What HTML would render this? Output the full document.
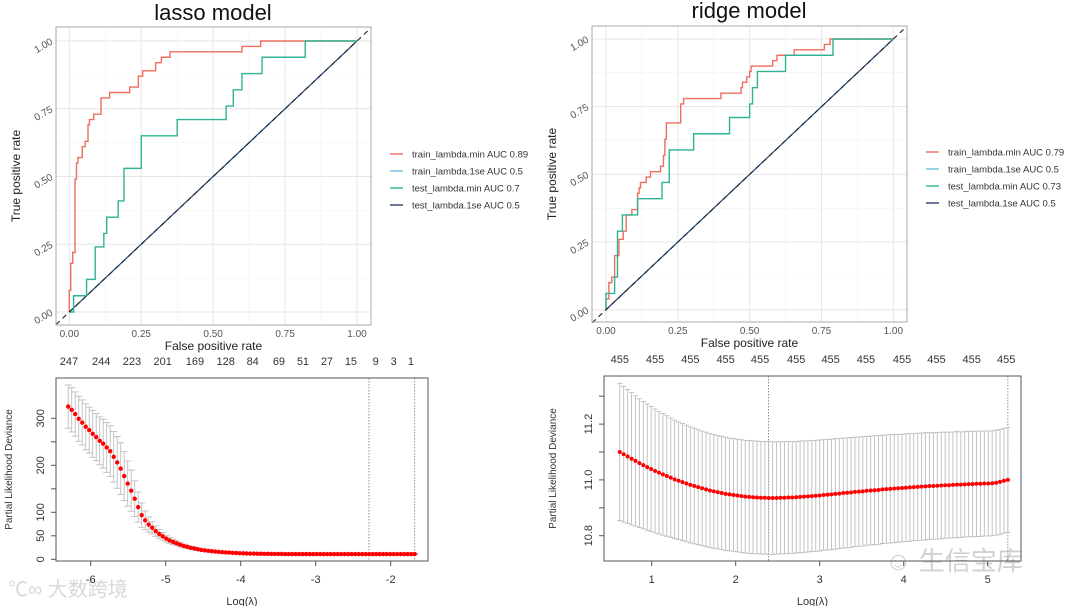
<!DOCTYPE html>
<html><head><meta charset="utf-8">
<style>
html,body{margin:0;padding:0;background:#fff;}
svg{display:block;font-family:"Liberation Sans","Noto Sans CJK SC",sans-serif;}
</style></head>
<body>
<svg id="fig" width="1080" height="606" viewBox="0 0 1080 606" xmlns="http://www.w3.org/2000/svg">
  <text x="213" y="20" font-size="22" text-anchor="middle" fill="#111">lasso model</text>
  <text x="749" y="18" font-size="22" text-anchor="middle" fill="#111">ridge model</text>
  <text x="8" y="596" font-size="20" fill="#d8d8d8">℃∞ 大数跨境</text>
  <text x="885" y="570" font-size="26" fill="#d0d0d0">☺ 生信宝库</text>
</svg>
<script>
// ---------- data ----------
const rocLassoTrainFpr = [0,.005,.012,.02,.025,.03,.045,.055,.065,.07,.085,.11,.14,.21,.24,.255,.3,.32,.35,.6,.665];
const rocLassoTrainTpr = [.08,.18,.22,.49,.55,.57,.61,.63,.69,.71,.73,.79,.81,.83,.87,.89,.92,.94,.96,.98,1];
const rocLassoTestFpr = [.015,.06,.09,.12,.13,.17,.19,.25,.375,.545,.57,.6,.67,.82];
const rocLassoTestTpr = [.06,.12,.24,.29,.35,.41,.53,.65,.71,.76,.82,.88,.94,1];
const rocRidgeTrainFpr = [0,.01,.02,.03,.045,.06,.07,.09,.11,.115,.12,.14,.155,.19,.2,.205,.21,.26,.27,.4,.47,.475,.49,.5,.505,.58,.595,.655,.76,.78];
const rocRidgeTrainTpr = [.04,.1,.12,.2,.26,.29,.35,.37,.43,.45,.47,.49,.51,.53,.57,.63,.69,.76,.78,.8,.82,.84,.86,.88,.9,.92,.94,.96,.98,1];
const rocRidgeTestFpr = [0,.03,.04,.057,.11,.195,.22,.305,.43,.5,.51,.527,.625,.79];
const rocRidgeTestTpr = [.06,.12,.29,.35,.41,.47,.59,.65,.71,.76,.82,.88,.94,1];
const lassoLegend = ["train_lambda.min AUC 0.89","train_lambda.1se AUC 0.5","test_lambda.min AUC 0.7","test_lambda.1se AUC 0.5"];
const ridgeLegend = ["train_lambda.min AUC 0.79","train_lambda.1se AUC 0.5","test_lambda.min AUC 0.73","test_lambda.1se AUC 0.5"];
const rocTicks = [0,0.25,0.5,0.75,1];
const rocTickLabels = ["0.00","0.25","0.50","0.75","1.00"];

const lassoDev = [325,318,309,299,291,282,275,267,260,252,246,238,230,218,206,193,177,161,146,129,111,94,83,74,67,60,54,49,44,40,37,34,31,28.5,26.5,24.5,23,21.5,20,19,18,17.2,16.5,15.8,15.2,14.7,14.2,13.8,13.4,13.1,12.8,12.5,12.3,12.1,11.9,11.8,11.7,11.6,11.5,11.4,11.35,11.3,11.25,11.2,11.15,11.1,11.1,11.05,11.05,11,11,11,11,11,11,11,11,11,11,11,11,11,11,11,11,11,11,11,11,11,11,11,11,11,11,11,11,11,11,11.1];
const lassoSe = [46,47,47,48,48,49,49,50,50,51,52,53,54,54,55,55,52,48,44,38,32,26,20,16,13,11,9,8,7,6,5.5,5,4.5,4,3.6,3.2,2.9,2.6,2.3,2,1.8,1.6,1.5,1.4,1.3,1.2,1.1,1,1,1,1,1,1,1,1,1,1,1,1,1,1,1,1,1,1,1,1,1,1,1,1,1,1,1,1,1,1,1,1,1,1,1,1,1,1,1,1,1,1,1,1,1,1,1,1,1,1,1,1,1];
const lassoLogLamRange = [-6.3,-1.68];
const lassoVlines = [-2.29,-1.68];
const lassoTopPos = [-6.29,-5.86,-5.45,-5.04,-4.61,-4.2,-3.84,-3.49,-3.17,-2.85,-2.53,-2.2,-1.96,-1.73];
const lassoTopLabels = ["247","244","223","201","169","128","84","69","51","27","15","9","3","1"];
const lassoXTicks = [-6,-5,-4,-3,-2];
const lassoYTicks = [0,50,100,150,200,250,300];
const lassoYLabels = ["0","50","100","","200","","300"];

const ridgeDev = [11.100,11.092,11.084,11.076,11.068,11.060,11.053,11.046,11.039,11.032,11.026,11.020,11.014,11.008,11.002,10.997,10.992,10.987,10.982,10.978,10.974,10.970,10.966,10.962,10.959,10.956,10.953,10.950,10.948,10.946,10.944,10.942,10.940,10.939,10.938,10.937,10.936,10.936,10.935,10.935,10.935,10.936,10.936,10.937,10.937,10.938,10.939,10.940,10.941,10.942,10.943,10.944,10.946,10.947,10.948,10.950,10.951,10.953,10.954,10.955,10.957,10.958,10.959,10.961,10.962,10.963,10.964,10.966,10.967,10.968,10.969,10.970,10.971,10.972,10.973,10.974,10.975,10.976,10.977,10.978,10.978,10.979,10.980,10.981,10.981,10.982,10.983,10.983,10.984,10.985,10.985,10.986,10.986,10.987,10.987,10.988,10.990,10.993,10.997,11.000];
const ridgeSe = [0.246,0.243,0.240,0.237,0.234,0.231,0.228,0.226,0.224,0.222,0.220,0.218,0.216,0.214,0.212,0.211,0.210,0.209,0.208,0.207,0.206,0.205,0.205,0.204,0.204,0.203,0.203,0.203,0.202,0.202,0.202,0.202,0.202,0.202,0.202,0.202,0.202,0.202,0.202,0.202,0.201,0.201,0.201,0.201,0.200,0.200,0.200,0.200,0.199,0.199,0.199,0.199,0.198,0.198,0.198,0.198,0.197,0.197,0.197,0.197,0.196,0.196,0.196,0.195,0.195,0.195,0.195,0.194,0.194,0.194,0.194,0.193,0.193,0.193,0.193,0.192,0.192,0.192,0.192,0.191,0.191,0.191,0.191,0.190,0.190,0.190,0.190,0.189,0.189,0.189,0.189,0.189,0.189,0.188,0.188,0.188,0.188,0.188,0.188,0.188];
const ridgeLogLamRange = [0.62,5.24];
const ridgeVlines = [2.39,5.24];
const ridgeTopPos = [0.62,1.04,1.46,1.88,2.29,2.72,3.13,3.55,3.98,4.39,4.81,5.22];
const ridgeTopLabels = ["455","455","455","455","455","455","455","455","455","455","455","455"];
const ridgeXTicks = [1,2,3,4,5];
const ridgeYTicks = [10.8,10.9,11.0,11.1,11.2,11.3];
const ridgeYLabels = ["10.8","","11.0","","11.2",""];

// ---------- helpers ----------
const NS = "http://www.w3.org/2000/svg";
const svg = document.getElementById("fig");
function mk(tag, attrs, parent){
  const e = document.createElementNS(NS, tag);
  for (const k in attrs) e.setAttribute(k, attrs[k]);
  (parent || svg).appendChild(e);
  return e;
}
const COLORS = ["#ee6e5e","#66c5df","#2fb396","#2c3d6e"];

function drawRoc(p){
  const sx = v => p.x0 + v * p.xs, sy = v => p.y0 - v * p.ys;
  const g = mk("g", {});
  
  
  for (let i = 0; i <= 8; i++) {
    const v = i / 8;
    const major = i % 2 === 0;
    const gx = mk("line", {x1:sx(v), x2:sx(v), y1:p.bt, y2:p.bb, stroke: major ? "#e6e6e6" : "#f2f2f2", "stroke-width": major ? 1 : 0.6}, g);
    
    
    const gy = mk("line", {x1:p.bl, x2:p.br, y1:sy(v), y2:sy(v), stroke: major ? "#e6e6e6" : "#f2f2f2", "stroke-width": major ? 1 : 0.6}, g);
    
    
  }
  const d1 = mk("line", {x1:sx(0), y1:sy(0), x2:sx(1), y2:sy(1), stroke:COLORS[1], "stroke-width":1.3}, g);
  
  
  const d2 = mk("line", {x1:sx(0), y1:sy(0), x2:sx(1), y2:sy(1), stroke:COLORS[3], "stroke-width":1.1}, g);
  
  
  function stepPath(f, t){
    let d = "M" + sx(0) + " " + sy(0);
    for (let i = 0; i < f.length; i++) d += " H" + sx(f[i]) + " V" + sy(t[i]);
    d += " H" + sx(1);
    return d;
  }
  const tr = mk("path", {d: stepPath(p.trF, p.trT), fill:"none", stroke:COLORS[0], "stroke-width":1.4}, g);
  
  
  const te = mk("path", {d: stepPath(p.teF, p.teT), fill:"none", stroke:COLORS[2], "stroke-width":1.4}, g);
  
  
  const a = (p.bl - p.x0) / p.xs, b = (p.br - p.x0) / p.xs;
  const ref = mk("line", {x1:p.bl, y1:sy(a), x2:p.br, y2:sy(b), stroke:"#222", "stroke-width":1.1, "stroke-dasharray":"5 4"}, g);
  
  
  const box = mk("rect", {x:p.bl, y:p.bt, width:p.br - p.bl, height:p.bb - p.bt, fill:"none", stroke:"#aaa", "stroke-width":1}, g);
  
  
  rocTicks.forEach((v, i) => {
    const tx = mk("text", {x:sx(v), y:p.bb + 12, "font-size":10, "text-anchor":"middle", fill:"#555"}, g);
    tx.textContent = rocTickLabels[i];
    
    
    const ty = mk("text", {x:p.bl - 4, y:sy(v) + 3, "font-size":10, "text-anchor":"end", fill:"#555", transform:"rotate(-30 " + (p.bl - 4) + " " + sy(v) + ")"}, g);
    ty.textContent = rocTickLabels[i];
    
    
  });
  const xt = mk("text", {x:(p.bl + p.br) / 2, y:p.bb + 25, "font-size":12, "text-anchor":"middle", fill:"#222"}, g);
  xt.textContent = "False positive rate";
  
  
  const yt = mk("text", {x:p.ytx, y:(p.bt + p.bb) / 2, "font-size":12, "text-anchor":"middle", fill:"#222", transform:"rotate(-90 " + p.ytx + " " + (p.bt + p.bb) / 2 + ")"}, g);
  yt.textContent = "True positive rate";
  
  
  p.legend.forEach((lab, i) => {
    const y = p.ly + i * 17;
    const ll = mk("line", {x1:p.lx, x2:p.lx + 13, y1:y, y2:y, stroke:COLORS[i], "stroke-width":1.4}, g);
    
    
    const lt = mk("text", {x:p.lx + 22, y:y + 3.5, "font-size":9.5, fill:"#333"}, g);
    lt.textContent = lab;
    
    
  });
}

drawRoc({name:"lasso", x0:69.3, xs:287.7, y0:312, ys:271, bl:56, br:371, bt:27, bb:325,
  trF:rocLassoTrainFpr, trT:rocLassoTrainTpr, teF:rocLassoTestFpr, teT:rocLassoTestTpr,
  legend:lassoLegend, lx:390, ly:154, ytx:20});
drawRoc({name:"ridge", x0:606, xs:287.3, y0:309.7, ys:270.7, bl:592, br:907, bt:26, bb:322,
  trF:rocRidgeTrainFpr, trT:rocRidgeTrainTpr, teF:rocRidgeTestFpr, teT:rocRidgeTestTpr,
  legend:ridgeLegend, lx:926, ly:152, ytx:556});

function drawCv(p){
  const sx = v => p.xa + (v - p.xv) * p.xs, sy = v => p.ya - (v - p.yv) * p.ys;
  const g = mk("g", {});
  
  
  const n = p.dev.length;
  const step = (p.range[1] - p.range[0]) / (n - 1);
  p.vlines.forEach(v => {
    const vl = mk("line", {x1:sx(v), x2:sx(v), y1:p.bt, y2:p.bb, stroke:"#777", "stroke-width":0.8, "stroke-dasharray":"1.5 1.5"}, g);
    
    
  });
  for (let i = 0; i < n; i++) {
    const x = sx(p.range[0] + i * step);
    const hi = sy(p.dev[i] + p.se[i]), lo = sy(p.dev[i] - p.se[i]);
    const eb = mk("path", {d:"M" + x + " " + hi + " V" + lo + " M" + (x - p.cap) + " " + hi + " H" + (x + p.cap) + " M" + (x - p.cap) + " " + lo + " H" + (x + p.cap), stroke:"#bdbdbd", "stroke-width":0.9, fill:"none"}, g);
    
    
  }
  for (let i = 0; i < n; i++) {
    const c = mk("circle", {cx:sx(p.range[0] + i * step), cy:sy(p.dev[i]), r:p.r, fill:"#ff0000"}, g);
    
    
  }
  const box = mk("rect", {x:p.bl, y:p.bt, width:p.br - p.bl, height:p.bb - p.bt, fill:"none", stroke:"#555", "stroke-width":1}, g);
  
  
  p.xticks.forEach(v => {
    const t = mk("line", {x1:sx(v), x2:sx(v), y1:p.bb, y2:p.bb + 5, stroke:"#555"}, g);
    
    
    const l = mk("text", {x:sx(v), y:p.bb + 22, "font-size":11, "text-anchor":"middle", fill:"#333"}, g);
    l.textContent = String(v);
    
    
  });
  p.yticks.forEach((v, i) => {
    const t = mk("line", {x1:p.bl - 5, x2:p.bl, y1:sy(v), y2:sy(v), stroke:"#555"}, g);
    
    
    const lab = p.ylabels[i];
    if (lab) {
      const lx = p.bl - 12;
      const l = mk("text", {x:lx, y:sy(v), "font-size":11, "text-anchor":"middle", fill:"#333", transform:"rotate(-90 " + lx + " " + sy(v) + ")"}, g);
      l.textContent = lab;
      
      
    }
  });
  p.topPos.forEach((v, i) => {
    const l = mk("text", {x:sx(v), y:p.bt - 13, "font-size":11, "text-anchor":"middle", fill:"#333"}, g);
    l.textContent = p.topLabels[i];
    
    
  });
  const xt = mk("text", {x:(p.bl + p.br) / 2, y:p.bb + 44, "font-size":11, "text-anchor":"middle", fill:"#333"}, g);
  xt.textContent = "Log(λ)";
  
  
  const yt = mk("text", {x:p.ytx, y:(p.bt + p.bb) / 2, "font-size":10, "text-anchor":"middle", fill:"#333", transform:"rotate(-90 " + p.ytx + " " + (p.bt + p.bb) / 2 + ")"}, g);
  yt.textContent = "Partial Likelihood Deviance";
  
  
}

drawCv({name:"lasso", xa:165.7, xv:-5, xs:75, ya:559.3, yv:0, ys:0.47, bl:56, br:428, bt:378, bb:561,
  dev:lassoDev, se:lassoSe, range:lassoLogLamRange, vlines:lassoVlines, cap:3.5, r:2.2,
  xticks:lassoXTicks, yticks:lassoYTicks, ylabels:lassoYLabels, topPos:lassoTopPos, topLabels:lassoTopLabels, ytx:12});
drawCv({name:"ridge", xa:651.7, xv:1, xs:84, ya:535.7, yv:10.8, ys:279, bl:604, br:1021, bt:376, bb:561,
  dev:ridgeDev, se:ridgeSe, range:ridgeLogLamRange, vlines:ridgeVlines, cap:2.5, r:2,
  xticks:ridgeXTicks, yticks:ridgeYTicks, ylabels:ridgeYLabels, topPos:ridgeTopPos, topLabels:ridgeTopLabels, ytx:556});
</script>
</body></html>
